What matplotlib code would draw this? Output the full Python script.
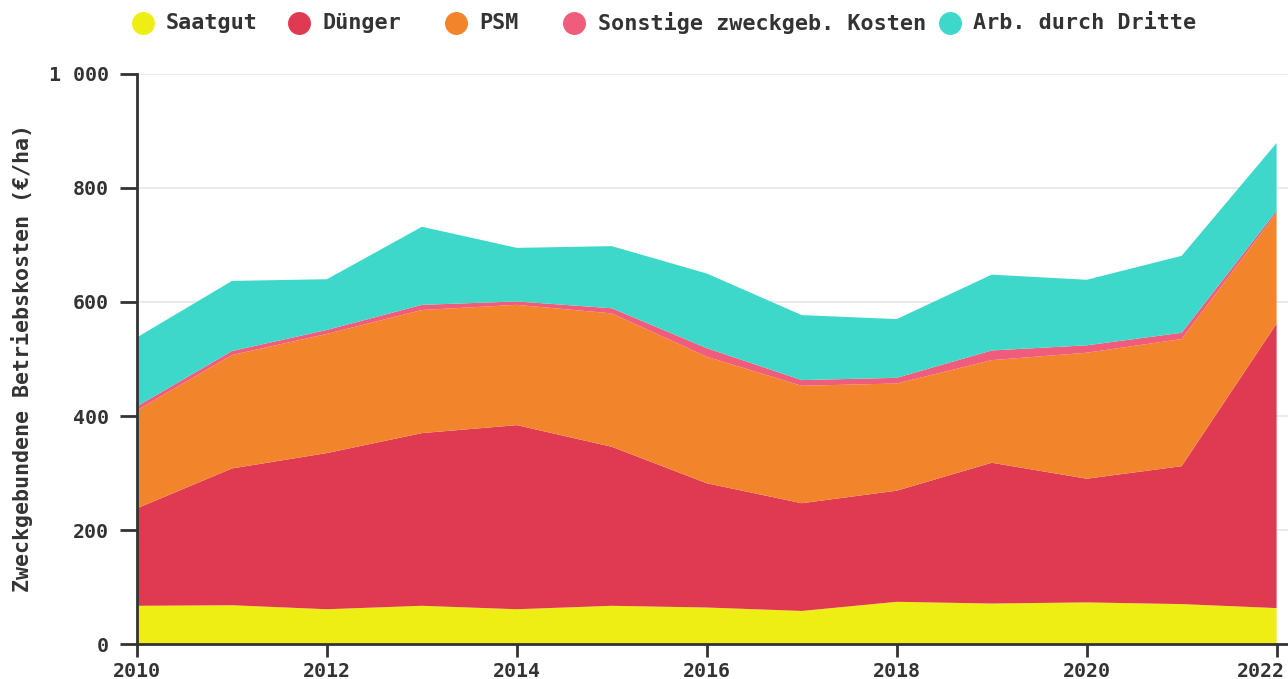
import matplotlib
matplotlib.use("Agg")
import matplotlib.pyplot as plt
from matplotlib.lines import Line2D
from matplotlib.transforms import ScaledTranslation
import numpy as np

years = [2010, 2011, 2012, 2013, 2014, 2015, 2016, 2017, 2018, 2019, 2020, 2021, 2022]
saatgut = [67, 68, 61, 67, 61, 67, 64, 58, 74, 71, 73, 70, 63]
duenger = [171, 240, 274, 303, 323, 279, 218, 189, 195, 247, 217, 242, 499]
psm = [172, 199, 209, 216, 211, 234, 222, 206, 188, 180, 221, 223, 194]
sonstige = [7, 7, 7, 9, 6, 9, 15, 10, 10, 17, 13, 11, 4]
arb_dritte = [121, 123, 89, 137, 94, 109, 131, 114, 103, 133, 115, 135, 119]

labels = ["Saatgut", "Dünger", "PSM", "Sonstige zweckgeb. Kosten", "Arb. durch Dritte"]
colors = ["#EEEE14", "#E03A52", "#F2852C", "#F05C7C", "#3ED8CB"]
y_ticks = [0, 200, 400, 600, 800, 1000]
y_ticklabels = ["0", "200", "400", "600", "800", "1 000"]
x_ticks = [2010, 2012, 2014, 2016, 2018, 2020, 2022]
ylabel = "Zweckgebundene Betriebskosten (€/ha)"

FONT = "DejaVu Sans Mono"
TXT = "#333333"

fig = plt.figure(figsize=(12.88, 6.79), dpi=100)
W, H = 1288, 679
ax = fig.add_axes([137 / W, 35 / H, 1151 / W, 570 / H])

ax.stackplot(years, saatgut, duenger, psm, sonstige, arb_dritte,
             colors=colors, linewidth=0, zorder=2)

ax.set_xlim(2010, 2022.12)
ax.set_ylim(0, 1000)
ax.set_yticks(y_ticks)
ax.set_yticklabels(y_ticklabels)
ax.set_xticks(x_ticks)
ax.grid(axis="y", color="#e6e6e6", linewidth=1.2, zorder=0)
ax.set_axisbelow(True)
for s in ["top", "right"]:
    ax.spines[s].set_visible(False)
for s in ["left", "bottom"]:
    ax.spines[s].set_color(TXT)
    ax.spines[s].set_linewidth(2)
    ax.spines[s].set_zorder(5)
ax.tick_params(axis="both", colors=TXT, width=2, direction="out")
ax.tick_params(axis="y", length=12, pad=8)
ax.tick_params(axis="x", length=9, pad=4)
for t in ax.get_xticklabels() + ax.get_yticklabels():
    t.set_fontfamily(FONT)
    t.set_fontweight("bold")
    t.set_fontsize(14.3)
    t.set_color(TXT)

# last x label shifted left to stay within the figure
last = ax.get_xticklabels()[-1]
last.set_horizontalalignment("right")
last.set_transform(last.get_transform() + ScaledTranslation(8 / 100, 0, fig.dpi_scale_trans))

fig.text(22 / W, 1 - 358 / H, ylabel, rotation=90, ha="center", va="center",
         fontfamily=FONT, fontweight="bold", fontsize=15.6, color=TXT)

# legend
marker_x = [143, 299, 456, 574, 950]
text_x = [166, 323, 479, 598, 973]
ly = 1 - 23 / H
for lab, col, mx, tx in zip(labels, colors, marker_x, text_x):
    fig.add_artist(Line2D([mx / W], [ly], transform=fig.transFigure, marker="o",
                          markersize=15.5, color=col, linestyle="none"))
    fig.text(tx / W, ly, lab, ha="left", va="center", fontfamily=FONT,
             fontweight="bold", fontsize=15.7, color=TXT)

fig.savefig("out.png", dpi=100)
